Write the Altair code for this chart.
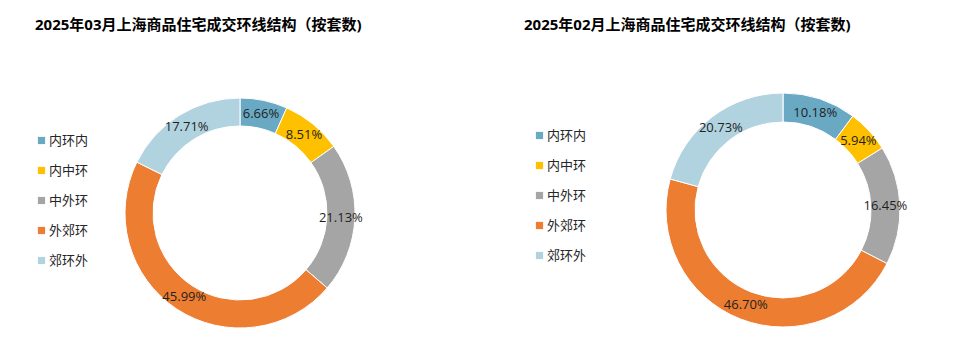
import altair as alt
import pandas as pd

segments = ["内环内", "内中环", "中外环", "外郊环", "郊环外"]
colors = ["#6AA9C4", "#FFC000", "#A5A5A5", "#ED7D31", "#B1D3DF"]
mar_values = [6.66, 8.51, 21.13, 45.99, 17.71]
feb_values = [10.18, 5.94, 16.45, 46.70, 20.73]
mar_title = "2025年03月上海商品住宅成交环线结构（按套数)"
feb_title = "2025年02月上海商品住宅成交环线结构（按套数)"

FONT = "Open Sans, Noto Sans CJK SC"


def frame(values):
    return pd.DataFrame({
        "seg": segments,
        "val": values,
        "idx": list(range(len(segments))),
        "lab": [f"{v:.2f}%" for v in values],
    })


def donut(values, cx, cy, r_out, r_in, lx, ly, title, tx):
    df = frame(values)
    base = alt.Chart(df)
    arc = base.mark_arc(outerRadius=r_out, innerRadius=r_in, stroke="white", strokeWidth=1).encode(
        theta=alt.Theta("val:Q", stack=True),
        order=alt.Order("idx:Q"),
        color=alt.Color(
            "seg:N",
            scale=alt.Scale(domain=segments, range=colors),
            sort=segments,
            legend=alt.Legend(
                orient="none", legendX=lx, legendY=ly, title=None,
                symbolType="square", symbolSize=52, symbolStrokeWidth=0,
                labelFontSize=13, labelFont=FONT, labelColor="#262626",
                labelOffset=1, rowPadding=16, padding=0,
            ),
        ),
        x=alt.value(cx),
        y=alt.value(cy),
    )
    txt = base.mark_text(radius=(r_out + r_in) / 2, fontSize=13, font=FONT, color="#1f1f1f").encode(
        theta=alt.Theta("val:Q", stack=True),
        order=alt.Order("idx:Q"),
        text="lab:N",
        x=alt.value(cx),
        y=alt.value(cy),
    )
    ttl = alt.Chart(pd.DataFrame({"t": [title]})).mark_text(
        align="left", baseline="middle", fontSize=15, fontWeight="bold", font=FONT, color="#000000"
    ).encode(text="t:N", x=alt.value(tx), y=alt.value(25))
    return arc, txt, ttl


a1, t1, h1 = donut(mar_values, 240, 213, 115, 87, 35, 134, mar_title, 35)
a2, t2, h2 = donut(feb_values, 783, 210, 117, 88, 533, 129, feb_title, 524)

chart = alt.layer(a1, t1, h1, a2, t2, h2).resolve_scale(
    color="independent", theta="independent"
).properties(
    width=960, height=355, padding=0,
    autosize=alt.AutoSizeParams(type="none"),
    background="white",
).configure_view(stroke=None)

chart.save("out.html", embed_options={"renderer": "svg", "actions": False})
